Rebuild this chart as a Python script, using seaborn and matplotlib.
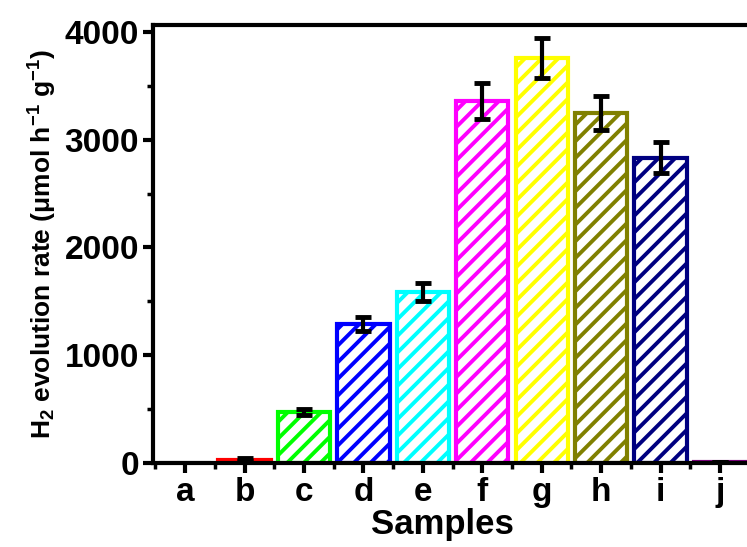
import matplotlib
matplotlib.use("Agg")
import matplotlib.pyplot as plt
import seaborn as sns
import pandas as pd
from matplotlib.ticker import MultipleLocator

# data
samples = ["a", "b", "c", "d", "e", "f", "g", "h", "i", "j"]
rates = [3, 30, 475, 1290, 1590, 3360, 3760, 3250, 2835, 5]
errors = [0, 12, 28, 65, 83, 170, 185, 158, 140, 0]
colors = ["#b0b0b0", "#ff0000", "#00ff00", "#0000ff", "#00ffff",
          "#ff00ff", "#ffff00", "#808000", "#000080", "#800080"]

sns.set_style("ticks")
plt.rcParams["font.family"] = ["Liberation Sans", "DejaVu Sans"]
plt.rcParams["font.weight"] = "bold"
plt.rcParams["text.color"] = "black"
plt.rcParams["axes.labelcolor"] = "black"
plt.rcParams["xtick.color"] = "black"
plt.rcParams["ytick.color"] = "black"
plt.rcParams["axes.edgecolor"] = "black"
plt.rcParams["mathtext.fontset"] = "custom"
plt.rcParams["mathtext.rm"] = "Liberation Sans:bold"
plt.rcParams["mathtext.bf"] = "Liberation Sans:bold"
plt.rcParams["mathtext.it"] = "Liberation Sans:bold"
plt.rcParams["mathtext.default"] = "bf"
plt.rcParams["hatch.linewidth"] = 2.8

df = pd.DataFrame({"Samples": samples, "rate": rates})

fig = plt.figure(figsize=(7.47, 5.47), dpi=100)
ax = fig.add_axes([0.2048, 0.1536, 0.802, 0.8007])

sns.barplot(data=df, x="Samples", y="rate", hue="Samples", palette=colors,
            legend=False, width=0.88, ax=ax)

for patch, c in zip(ax.patches, colors):
    patch.set_facecolor("white")
    patch.set_edgecolor(c)
    patch.set_hatch("//")
    patch.set_linewidth(3)

ax.errorbar(range(len(samples)), rates, yerr=errors, fmt="none", ecolor="black",
            elinewidth=3, capsize=6, capthick=3.5, zorder=5)

ax.set_xlim(-0.54, 9.54)
ax.set_ylim(0, 4065)
ax.yaxis.set_major_locator(MultipleLocator(1000))
ax.yaxis.set_minor_locator(MultipleLocator(500))
ax.set_xticks(range(len(samples)))
ax.set_xticks([i + 0.5 for i in range(-1, len(samples))], minor=True)

ax.tick_params(axis="both", which="major", direction="out", length=7, width=3,
               labelsize=24, pad=3)
ax.tick_params(axis="both", which="minor", direction="out", length=4, width=2.5)
for lab in ax.get_xticklabels() + ax.get_yticklabels():
    lab.set_fontweight("bold")

for sp in ax.spines.values():
    sp.set_linewidth(3)

ax.set_xlabel("Samples", fontsize=25, fontweight="bold", labelpad=0)
ax.xaxis.label.set_x(0.483)
ax.set_ylabel(r"H$_2$ evolution rate ($\mu$mol h$^{-1}$ g$^{-1}$)", fontsize=19,
              fontweight="bold", labelpad=4)

fig.savefig("out.png", dpi=100)
